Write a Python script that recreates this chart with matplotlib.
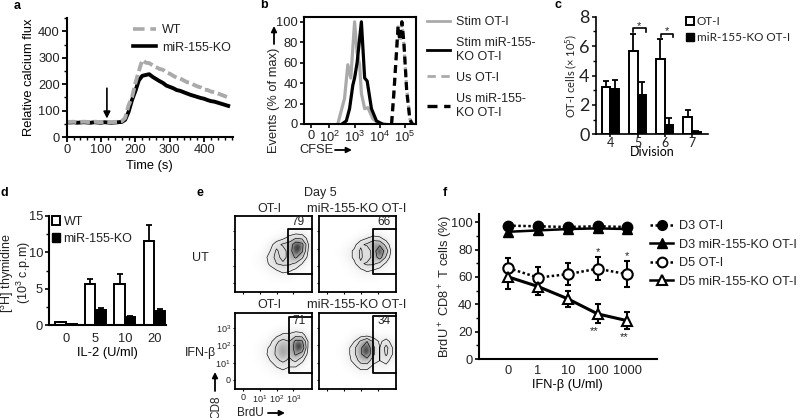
import numpy as np
import matplotlib
matplotlib.use('Agg')
import matplotlib.pyplot as plt
from matplotlib.colors import LinearSegmentedColormap
from matplotlib.lines import Line2D
from matplotlib.patches import Patch
from matplotlib.ticker import MultipleLocator

plt.rcParams['font.family'] = ['Liberation Sans', 'DejaVu Sans']
plt.rcParams['mathtext.default'] = 'regular'
plt.rcParams['text.color'] = '#222222'
plt.rcParams['xtick.labelcolor'] = '#222222'
plt.rcParams['ytick.labelcolor'] = '#222222'

# a: calcium flux
time_s = [0, 10, 20, 30, 40, 50, 60, 70, 80, 90, 100, 110, 120, 130, 140, 150, 160, 170, 180, 190, 200, 210, 220, 230,
          240, 250, 260, 270, 280, 290, 300, 310, 320, 330, 340, 350, 360, 370, 380, 390, 400, 410, 420, 430, 440, 450, 460, 470]
flux_wt = [58, 57, 58, 56, 57, 58, 57, 56, 58, 57, 56, 58, 57, 56, 57, 58, 60, 72, 120, 150, 205, 250, 292, 282,
           280, 272, 265, 258, 255, 245, 240, 232, 225, 222, 215, 208, 205, 198, 192, 188, 180, 178, 172, 170, 165, 160, 155, 150]
flux_ko = [56, 55, 56, 54, 55, 56, 55, 54, 56, 55, 54, 56, 55, 54, 55, 56, 57, 65, 95, 140, 175, 215, 232, 235,
           238, 228, 220, 212, 205, 195, 190, 185, 178, 175, 170, 165, 160, 156, 152, 148, 145, 140, 136, 134, 130, 126, 122, 118]

# b: CFSE histogram, x is the tick position on the log axis
stim_x = [2.33, 2.6, 2.73, 2.85, 3.0, 3.1, 3.2, 3.27, 3.4, 3.53, 3.73, 3.93, 4.2]
stim_y = [0, 25, 58, 45, 100, 70, 58, 30, 15, 16, 5, 1, 0]
ko_x = [2.5, 2.67, 2.8, 2.93, 3.0, 3.1, 3.27, 3.4, 3.5, 3.67, 3.87, 4.1]
ko_y = [0, 3, 15, 38, 45, 60, 100, 45, 42, 15, 3, 0]
us_x = [4.47, 4.56, 4.67, 4.73, 4.8, 4.88, 4.96, 5.07, 5.2, 5.3]
us_y = [0, 28, 70, 95, 80, 100, 78, 35, 5, 0]
us_ko_y = [0, 30, 72, 96, 82, 100, 80, 33, 4, 0]
base_x = [1.0, 5.43]
base_y = [0, 0]
cfse_pos = [1.28, 2, 3, 4, 5]
cfse_labels = ['0', '$10^2$', '$10^3$', '$10^4$', '$10^5$']

# c: OT-I cells per division
division = ['4', '5', '6', '7']
ot1_cells = [3.2, 5.7, 5.15, 1.2]
ot1_err = [0.4, 1.1, 1.35, 0.45]
ko_cells = [3.1, 2.65, 0.65, 0.15]
ko_err = [0.6, 0.9, 0.45, 0.05]

# d: thymidine
il2 = ['0', '5', '10', '20']
thy_wt = [0.35, 5.6, 5.7, 11.6]
thy_wt_err = [0.05, 0.7, 1.3, 2.2]
thy_ko = [0.15, 2.0, 1.1, 1.9]
thy_ko_err = [0.05, 0.3, 0.15, 0.25]

# e: flow plots, density, top row first
dens_79 = [[0, 0, 0, 0, 0, 0, 0, 0, 0, 0, 0, 0],
           [0, 0, 0, 0, 0, 0, 0, 0, 0, 0, 0, 0],
           [0, 0, 0, 0, 0, 0, 0, 0, .05, .08, .06, 0],
           [0, 0, 0, 0, 0, 0, .05, .15, .3, .45, .4, .1],
           [0, 0, 0, 0, 0, .1, .35, .5, .55, .95, .85, .2],
           [0, 0, 0, 0, .05, .2, .5, .3, .6, 1, .8, .15],
           [0, 0, 0, .03, .1, .3, .55, .35, .55, .8, .5, .1],
           [0, 0, 0, .03, .08, .25, .45, .5, .5, .4, .2, .03],
           [0, 0, 0, 0, .05, .1, .2, .3, .25, .15, .05, 0],
           [0, 0, 0, 0, 0, .03, .06, .08, .05, .02, 0, 0],
           [0, 0, 0, 0, 0, 0, 0, 0, 0, 0, 0, 0],
           [0, 0, 0, 0, 0, 0, 0, 0, 0, 0, 0, 0]]
dens_66 = [[0, 0, 0, 0, 0, 0, 0, 0, 0, 0, 0, 0],
           [0, 0, 0, 0, 0, 0, 0, 0, 0, 0, 0, 0],
           [0, 0, 0, 0, 0, 0, 0, 0, .02, .02, 0, 0],
           [0, 0, 0, 0, 0, 0, .08, .2, .3, .25, .1, 0],
           [0, 0, 0, 0, .03, .12, .4, .5, .7, .7, .35, .02],
           [0, 0, 0, .03, .1, .25, .5, .25, .6, 1, .6, .05],
           [0, 0, 0, .03, .1, .25, .5, .3, .55, .9, .4, .03],
           [0, 0, 0, 0, .05, .15, .4, .5, .5, .35, .15, 0],
           [0, 0, 0, 0, .02, .06, .15, .25, .2, .12, .03, 0],
           [0, 0, 0, 0, 0, .02, .05, .06, .04, .01, 0, 0],
           [0, 0, 0, 0, 0, 0, 0, 0, 0, 0, 0, 0],
           [0, 0, 0, 0, 0, 0, 0, 0, 0, 0, 0, 0]]
dens_71 = [[0, 0, 0, 0, 0, 0, 0, 0, 0, 0, 0, 0],
           [0, 0, 0, 0, 0, 0, 0, 0, 0, 0, 0, 0],
           [0, 0, 0, 0, 0, 0, .01, .03, .04, .06, .04, 0],
           [0, 0, 0, 0, 0, .03, .12, .25, .25, .35, .3, .05],
           [0, 0, 0, 0, .03, .12, .4, .55, .45, .85, .8, .15],
           [0, 0, 0, .02, .1, .25, .5, .7, .5, .9, 1, .12],
           [0, 0, 0, .02, .1, .3, .5, .75, .5, .8, .6, .08],
           [0, 0, 0, .01, .06, .2, .4, .5, .4, .5, .25, .03],
           [0, 0, 0, 0, .02, .08, .2, .3, .2, .2, .08, 0],
           [0, 0, 0, 0, 0, .02, .06, .08, .05, .04, .01, 0],
           [0, 0, 0, 0, 0, 0, 0, 0, 0, 0, 0, 0],
           [0, 0, 0, 0, 0, 0, 0, 0, 0, 0, 0, 0]]
dens_34 = [[0, 0, 0, 0, 0, 0, 0, 0, 0, 0, 0, 0],
           [0, 0, 0, 0, 0, 0, 0, 0, 0, 0, 0, 0],
           [0, 0, 0, 0, 0, 0, 0, 0, 0, 0, 0, 0],
           [0, 0, 0, 0, 0, .03, .08, .1, .06, .03, .04, 0],
           [0, 0, 0, 0, .03, .2, .5, .75, .4, .15, .3, .1],
           [0, 0, 0, .02, .12, .4, .7, 1, .5, .2, .55, .2],
           [0, 0, 0, .02, .12, .4, .7, 1, .5, .2, .5, .2],
           [0, 0, 0, .01, .1, .3, .55, .6, .3, .2, .3, .08],
           [0, 0, 0, 0, .03, .12, .3, .3, .12, .1, .12, .02],
           [0, 0, 0, 0, 0, .02, .06, .06, .03, .03, .02, 0],
           [0, 0, 0, 0, 0, 0, 0, 0, 0, 0, 0, 0],
           [0, 0, 0, 0, 0, 0, 0, 0, 0, 0, 0, 0]]
flow_pct = ['79', '66', '71', '34']
gate_x = [2.7, 2.75, 2.72, 2.75]
gate_low = [0.51, 0.5, 0.42, 0.42]
gate_high = [3.16, 3.13, 3.67, 3.69]
flow_ticks = ['0', '$10^1$', '$10^2$', '$10^3$']

# f: BrdU
ifn = ['0', '1', '10', '100', '1000']
d3_ot1 = [97.5, 97, 96.5, 97, 96.5]
d3_ko = [93, 94, 95, 95.5, 95]
d5_ot1 = [66.5, 59.5, 62, 66, 62]
d5_ot1_err = [7, 7.5, 8, 8.5, 9.5]
d5_ko = [60, 53, 44, 33, 28]
d5_ko_err = [9, 6, 6, 7, 6]


W, H = 800, 418
fig = plt.figure(figsize=(W / 100, H / 100), dpi=100)


def ax_px(l, t, r, b):
    return fig.add_axes([l / W, 1 - b / H, (r - l) / W, (b - t) / H])


def txt(x, y, s, **kw):
    kw.setdefault('ha', 'center')
    kw.setdefault('va', 'center')
    kw.setdefault('fontsize', 9)
    fig.text(x / W, 1 - y / H, s, **kw)


def arrow(x0, y0, x1, y1, lw=1.3):
    fig.add_artist(matplotlib.patches.FancyArrowPatch(
        (x0 / W, 1 - y0 / H), (x1 / W, 1 - y1 / H), transform=fig.transFigure,
        arrowstyle='-|>', mutation_scale=8, lw=lw, color='k', shrinkA=0, shrinkB=0))


def open_axes(ax, lw=1.5):
    ax.spines['top'].set_visible(False)
    ax.spines['right'].set_visible(False)
    ax.spines['left'].set_linewidth(lw)
    ax.spines['bottom'].set_linewidth(lw)
    ax.patch.set_alpha(0)


def legend_px(handles, labels, x, y, **kw):
    if 'prop' not in kw:
        kw.setdefault('fontsize', 9)
    kw.setdefault('labelspacing', 0.45)
    kw.setdefault('handletextpad', 0.5)
    return fig.legend(handles, labels, loc='upper left', bbox_to_anchor=(x / W, 1 - y / H),
                      bbox_transform=fig.transFigure, frameon=False, borderpad=0, borderaxespad=0, **kw)


# 面板 a
ax = ax_px(66.7, 18.3, 233, 137)
ax.plot(time_s, flux_ko, color='k', lw=2.8)
ax.plot(time_s, flux_wt, color='#aaaaaa', lw=2.8, ls=(0, (2.5, 1)))
ax.set_xlim(0, 484)
ax.set_ylim(0, 450)
ax.set_xticks([0, 100, 200, 300, 400])
ax.set_yticks([0, 100, 200, 300, 400])
ax.xaxis.set_minor_locator(MultipleLocator(20))
ax.yaxis.set_minor_locator(MultipleLocator(50))
ax.tick_params(labelsize=9.3, width=1.3, length=3.5, pad=1.5)
ax.tick_params(which='minor', width=1, length=2)
ax.set_xlabel('Time (s)', fontsize=9.3, labelpad=3)
ax.set_ylabel('Relative calcium flux', fontsize=9.3, labelpad=2)
ax.annotate('', xy=(117, 70), xytext=(117, 185), arrowprops=dict(arrowstyle='-|>', color='k', lw=1.2, shrinkA=0, shrinkB=0))
open_axes(ax)
legend_px([Line2D([], [], color='#aaaaaa', lw=2.6, ls=(0, (3.2, 1.6))), Line2D([], [], color='k', lw=2.6)],
          ['WT', 'miR-155-KO'], 132.7, 24, handlelength=1.9, handletextpad=0.45)

# 面板 b
ax = ax_px(304.3, 16.7, 415.7, 124)
ax.plot(base_x, base_y, color='k', lw=2, zorder=1)
ax.plot(stim_x, stim_y, color='#aaaaaa', lw=2.3)
ax.plot(ko_x, ko_y, color='k', lw=2.3)
ax.plot(us_x, us_y, color='#aaaaaa', lw=2.3, ls=(0, (2.5, 1.5)))
ax.plot(us_x, us_ko_y, color='k', lw=2.3, ls=(0, (2.5, 1.5)))
ax.set_xlim(1.0, 5.43)
ax.set_ylim(0, 105)
ax.set_xticks(cfse_pos)
ax.set_xticklabels(cfse_labels)
ax.set_yticks([0, 20, 40, 60, 80, 100])
ax.tick_params(labelsize=9.3, width=1.2, length=3, pad=1.5)
for s in ax.spines.values():
    s.set_linewidth(1.5)
txt(274, 100, 'Events (% of max)', rotation=90, fontsize=9.3)
arrow(274, 44, 274, 26)
txt(316, 150, 'CFSE', fontsize=9.3)
arrow(335, 150, 352, 150)
legend_px([Line2D([], [], color='#aaaaaa', lw=2), Line2D([], [], color='k', lw=2),
           Line2D([], [], color='#aaaaaa', lw=2, ls=(0, (3, 2))), Line2D([], [], color='k', lw=2.4, ls=(0, (3, 2)))],
          ['Stim OT-I', 'Stim miR-155-\nKO OT-I', 'Us OT-I', 'Us miR-155-\nKO OT-I'], 427, 16,
          handlelength=1.85, handletextpad=0.45, labelspacing=0.72)

# 面板 c
ax = ax_px(595.7, 16.7, 708, 134.3)
xs = np.arange(len(division))
bw = 0.317
ax.bar(xs - bw / 2, ot1_cells, bw, color='w', edgecolor='k', lw=1.4,
       yerr=[[0] * 4, ot1_err], error_kw=dict(ecolor='k', elinewidth=1.3, capsize=2.5, capthick=1.3))
ax.bar(xs + bw / 2, ko_cells, bw, color='k', edgecolor='k', lw=1.4,
       yerr=[[0] * 4, ko_err], error_kw=dict(ecolor='k', elinewidth=1.3, capsize=2.5, capthick=1.3))
ax.plot([0.85, 0.85, 1.3, 1.3], [6.95, 7.2, 7.2, 6.95], color='k', lw=1.2)
ax.plot([1.87, 1.87, 2.3, 2.3], [6.6, 6.85, 6.85, 6.6], color='k', lw=1.2)
ax.text(1.07, 7.05, '*', ha='center', va='bottom', fontsize=8)
ax.text(2.07, 6.7, '*', ha='center', va='bottom', fontsize=8)
ax.set_xlim(-0.53, 3.58)
ax.set_ylim(0, 8)
ax.set_xticks(xs)
ax.set_xticklabels(division, fontsize=9, family='Lato')
ax.set_yticks([0, 2, 4, 6, 8])
ax.set_yticklabels(['0', '2', '4', '6', '8'], fontsize=13, family='Lato')
ax.yaxis.set_minor_locator(MultipleLocator(1))
ax.tick_params(width=1.1, length=3, pad=1.5)
ax.tick_params(axis='x', length=2, pad=0)
ax.tick_params(which='minor', width=1, length=2)
ax.set_xlabel('Division', fontsize=9, family='Lato', labelpad=-2)
open_axes(ax, 1.2)
txt(570.7, 76, 'OT-I cells (× $10^5$)', rotation=90, family='Lato', fontsize=8)
legend_px([Patch(facecolor='w', edgecolor='k', lw=1.4), Patch(facecolor='k', edgecolor='k')],
          ['OT-I', 'miR-155-KO OT-I'], 686, 16, handlelength=0.68, handleheight=0.68, handletextpad=0.25,
          labelspacing=0.45, prop=dict(family='Lato', size=8.5))

# 面板 d
ax = ax_px(49.3, 216, 165.7, 325)
xs = np.arange(len(il2))
bw = 0.36
ax.bar(xs - bw / 2, thy_wt, bw, color='w', edgecolor='k', lw=1.4,
       yerr=[[0] * 4, thy_wt_err], error_kw=dict(ecolor='k', elinewidth=1.3, capsize=2.5, capthick=1.3))
ax.bar(xs + bw / 2, thy_ko, bw, color='k', edgecolor='k', lw=1.4,
       yerr=[[0] * 4, thy_ko_err], error_kw=dict(ecolor='k', elinewidth=1.3, capsize=2.5, capthick=1.3))
ax.set_xlim(-0.57, 3.39)
ax.set_ylim(0, 15)
ax.set_xticks(xs)
ax.set_xticklabels(il2, fontsize=9.3)
ax.set_yticks([0, 5, 10, 15])
ax.yaxis.set_minor_locator(MultipleLocator(2.5))
ax.tick_params(axis='x', length=0, pad=6)
ax.tick_params(axis='y', labelsize=9.3, width=1.2, length=3, pad=1.5)
ax.tick_params(axis='y', which='minor', width=1, length=2)
ax.set_xlabel('IL-2 (U/ml)', fontsize=9.3, labelpad=1)
open_axes(ax)
txt(7, 273, '[$^3$H] thymidine', rotation=90, fontsize=9)
txt(24, 273, '(10$^3$ c.p.m)', rotation=90, fontsize=9)
legend_px([Patch(facecolor='w', edgecolor='k', lw=1.4), Patch(facecolor='k', edgecolor='k')],
          ['WT', 'miR-155-KO'], 52, 216, handlelength=0.65, handleheight=0.65, handletextpad=0.28, labelspacing=0.4)

# 面板 e
grey_map = LinearSegmentedColormap.from_list('flow', [(0, '#ffffff'), (0.45, '#d8d8d8'), (0.75, '#909090'), (1, '#000000')])
boxes = [(235, 216, 311.7, 292.3), (319.3, 216, 395.7, 292.3), (235, 312.7, 311.7, 389.3), (319.3, 312.7, 395.7, 389.3)]
pct_x = [0.82, 0.847, 0.834, 0.847]
pct_y = [0.92, 0.92, 0.898, 0.898]
for i, dens in enumerate([dens_79, dens_66, dens_71, dens_34]):
    ax = ax_px(*boxes[i])
    dens = np.array(dens)
    ax.imshow(dens, cmap=grey_map, vmin=0, vmax=1, interpolation='bicubic', aspect='auto',
              extent=(-0.46, 4.08, -0.54, 3.9))
    gx = np.linspace(-0.46, 4.08, 25)[1::2]
    gy = np.linspace(3.9, -0.54, 25)[1::2]
    ax.contour(gx, gy, dens, levels=[0.2, 0.45, 0.75], colors='k', linewidths=0.45)
    ax.plot([4.08, gate_x[i], gate_x[i], 4.08], [gate_low[i], gate_low[i], gate_high[i], gate_high[i]], color='k', lw=1.3, clip_on=False)
    ax.set_xlim(-0.46, 4.08)
    ax.set_ylim(-0.54, 3.9)
    ax.set_xticks([0, 1, 2, 3])
    ax.set_yticks([0, 1, 2, 3])
    ax.tick_params(width=0.8, length=1.5, pad=1.5, labelsize=6.5)
    if i == 2:
        ax.set_xticklabels(flow_ticks)
        ax.set_yticklabels(flow_ticks)
    else:
        ax.set_xticklabels([])
        ax.set_yticklabels([])
    for s in ax.spines.values():
        s.set_linewidth(1.3)
    ax.text(pct_x[i], pct_y[i], flow_pct[i], transform=ax.transAxes, ha='center', va='center', fontsize=8.5)
txt(320, 193, 'Day 5')
for y in [209, 305]:
    txt(269, y, 'OT-I')
    txt(356.7, y, 'miR-155-KO OT-I', fontsize=9.2)
txt(200, 258, 'UT')
txt(200, 353, 'IFN-β')
txt(216, 407, 'CD8', rotation=90, fontsize=8.5)
arrow(215, 391, 215, 372)
txt(250, 413, 'BrdU', fontsize=8.5)
arrow(268, 413, 285, 413)

# 面板 f
ax = ax_px(478.7, 214, 656.7, 359)
xs = np.arange(len(ifn))
ax.plot(xs, d3_ot1, color='k', lw=1.8, ls=(0, (1, 1)), marker='o', ms=7.5, mfc='k', mec='k')
ax.plot(xs, d3_ko, color='k', lw=1.8, marker='^', ms=7.5, mfc='k', mec='k')
ax.errorbar(xs, d5_ot1, yerr=d5_ot1_err, color='k', lw=1.8, ls=(0, (1, 1)), marker='o', ms=7.5, mfc='w', mec='k', mew=1.5,
            elinewidth=1.5, capsize=2.5, capthick=1.5)
ax.errorbar(xs, d5_ko, yerr=d5_ko_err, color='k', lw=2.2, marker='^', ms=7.5, mfc='w', mec='k', mew=1.5,
            elinewidth=1.5, capsize=2.5, capthick=1.5)
ax.text(3, 78, '*', ha='center', va='center', fontsize=8)
ax.text(4, 75.5, '*', ha='center', va='center', fontsize=8)
ax.text(2.9, 20.5, '**', ha='center', va='center', fontsize=8)
ax.text(3.9, 16, '**', ha='center', va='center', fontsize=8)
ax.set_xlim(-0.995, 4.99)
ax.set_ylim(0, 106)
ax.set_xticks(xs)
ax.set_xticklabels(ifn)
ax.set_yticks([0, 20, 40, 60, 80, 100])
ax.yaxis.set_minor_locator(MultipleLocator(10))
ax.tick_params(axis='x', length=0, pad=4, labelsize=9.3)
ax.tick_params(axis='y', labelsize=9.3, width=1.2, length=3, pad=1.5)
ax.tick_params(axis='y', which='minor', width=1, length=2)
ax.set_xlabel('IFN-β (U/ml)', fontsize=9.3, labelpad=2)
open_axes(ax)
txt(446, 287, 'BrdU$^+$ CD8$^+$ T cells (%)', rotation=90, fontsize=9.3)
legend_px([Line2D([], [], color='k', lw=1.8, ls=(0, (1, 1)), marker='o', ms=7),
           Line2D([], [], color='k', lw=1.8, marker='^', ms=7),
           Line2D([], [], color='k', lw=1.8, ls=(0, (1, 1)), marker='o', ms=7, mfc='w', mew=1.5),
           Line2D([], [], color='k', lw=1.8, marker='^', ms=7, mfc='w', mew=1.5)],
          ['D3 OT-I', 'D3 miR-155-KO OT-I', 'D5 OT-I', 'D5 miR-155-KO OT-I'], 650, 220,
          handlelength=1.85, handletextpad=0.45, labelspacing=0.52, fontsize=9.1)

# 面板标签
for x, y, s in [(17, 6, 'a'), (264, 5, 'b'), (558, 5, 'c'), (4, 193, 'd'), (200, 193, 'e'), (445, 193, 'f')]:
    txt(x, y, s, fontweight='bold', fontsize=9, color='k')

fig.savefig('out.png', dpi=100)
